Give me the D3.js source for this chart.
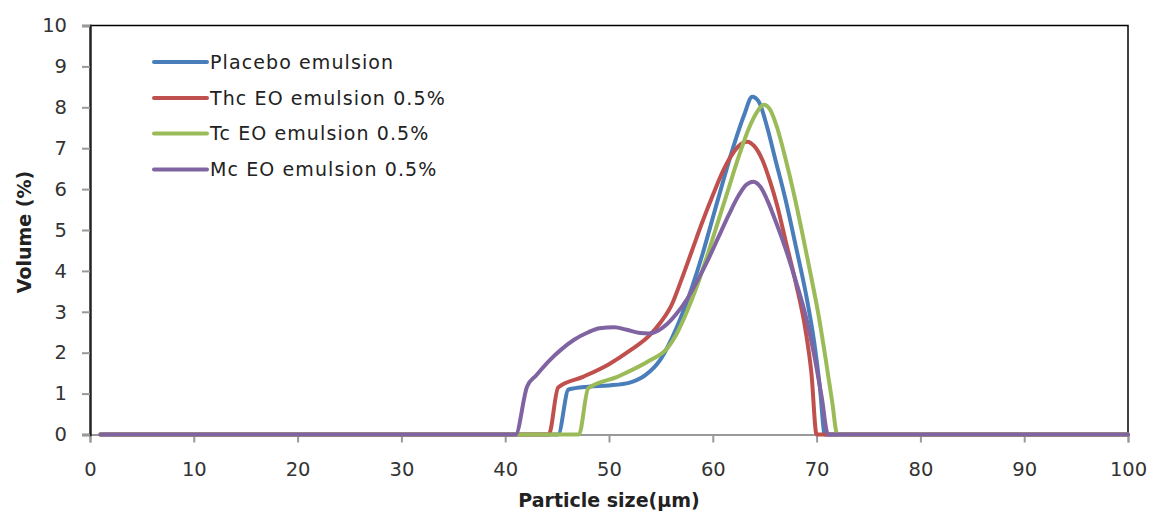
<!DOCTYPE html>
<html><head><meta charset="utf-8">
<script src="https://cdn.jsdelivr.net/npm/d3@7"></script>
<style>body{margin:0;background:#fff}svg{display:block}</style>
</head><body>
<svg id="c" width="1153" height="513"></svg>
<script>
const seriesNames = ["Placebo emulsion","Thc EO emulsion 0.5%","Tc EO emulsion 0.5%","Mc EO emulsion 0.5%"];
const seriesColors = ["#4a7ebb","#c0504d","#9bbb59","#8064a2"];
const xTicks = [0,10,20,30,40,50,60,70,80,90,100];
const yTicks = [0,1,2,3,4,5,6,7,8,9,10];

const placeboX = [1,45.1,46.1,48,50,52,53.5,55,56.5,58,59,60,61,62,63,63.8,64.4,65.2,66,67,68,69,69.8,70.3,70.8,100];
const placeboY = [0,0,1.1,1.17,1.2,1.27,1.45,1.85,2.6,3.6,4.4,5.3,6.2,7.05,7.8,8.26,8.15,7.55,6.75,5.75,4.6,3.4,2.2,1.2,0,0];
const thcX = [1,44.2,45.1,47.5,50,52,54,55,56,57,58,59,60,61,62,62.7,63.3,64,64.8,65.5,66.2,67,68,68.9,69.5,70,100];
const thcY = [0,0,1.15,1.41,1.72,2.05,2.45,2.75,3.15,3.8,4.5,5.2,5.85,6.45,6.9,7.1,7.16,7.05,6.7,6.2,5.6,4.75,3.7,2.6,1.5,0,0];
const tcX = [1,47.1,48,50.8,54,55.6,56.5,57.5,58.5,59.5,60.5,61.5,62.5,63.5,64.3,64.9,65.5,66.2,67,67.8,68.6,69.4,70.2,70.9,71.5,72,100];
const tcY = [0,0,1.13,1.41,1.82,2.1,2.45,3.0,3.65,4.4,5.2,6.0,6.8,7.5,7.9,8.06,7.95,7.5,6.75,5.9,4.95,3.95,2.9,1.8,0.8,0,0];
const mcX = [1,41,42.1,43,44.3,45.5,46.6,48,49.1,50.5,51.7,53,53.8,54.8,55.6,56.5,57.5,58.5,59.5,60.5,61.5,62.5,63.2,63.9,64.6,65.3,66,67,68,69,69.8,70.5,71.1,100];
const mcY = [0,0,1.17,1.45,1.82,2.1,2.31,2.5,2.6,2.62,2.56,2.48,2.47,2.55,2.7,2.95,3.3,3.75,4.25,4.8,5.35,5.85,6.1,6.18,6.05,5.7,5.25,4.55,3.75,2.85,1.9,0.9,0,0];

const seriesX = [placeboX, thcX, tcX, mcX];
const seriesY = [placeboY, thcY, tcY, mcY];

const svg = d3.select("#c");
const L = 90, R = 1128, T = 25.5, B = 434.5;
const x = d3.scaleLinear().domain([0,100]).range([L,R]);
const y = d3.scaleLinear().domain([0,10]).range([B,T]);
const font = "'DejaVu Sans', Verdana, sans-serif";

// plot border (top/right)
svg.append("path").attr("d",`M${L},${T}H${R}V${B}`).attr("fill","none").attr("stroke","#000").attr("stroke-width",1.5);

// x axis
const gx = svg.append("g").attr("transform",`translate(0,${B})`)
  .call(d3.axisBottom(x).tickValues(xTicks).tickSize(8).tickPadding(20).tickFormat(d3.format("d")));
gx.select(".domain").attr("stroke","#999").attr("stroke-width",2);
gx.selectAll(".tick line").attr("stroke","#999").attr("stroke-width",2);
gx.selectAll(".tick text").attr("font-family",font).attr("font-size",19.5).attr("fill","#333");

// y axis
const gy = svg.append("g").attr("transform",`translate(${L},0)`)
  .call(d3.axisLeft(y).tickValues(yTicks).tickSize(8).tickPadding(15).tickFormat(d3.format("d")));
gy.select(".domain").attr("stroke","#222").attr("stroke-width",2.5);
gy.selectAll(".tick line").attr("stroke","#999").attr("stroke-width",2);
gy.selectAll(".tick text").attr("font-family",font).attr("font-size",19.5).attr("fill","#333");

// lines
const line = d3.line().x(d=>x(d[0])).y(d=>y(d[1])).curve(d3.curveMonotoneX);
seriesX.forEach((xs,i)=>{
  const pts = xs.map((v,j)=>[v, seriesY[i][j]]);
  svg.append("path").datum(pts).attr("d",line).attr("fill","none")
    .attr("stroke",seriesColors[i]).attr("stroke-width",4).attr("stroke-linejoin","round").attr("stroke-linecap","round");
});

// legend
const legY = [62,98,133.5,169.5];
seriesNames.forEach((n,i)=>{
  svg.append("line").attr("x1",154).attr("x2",207).attr("y1",legY[i]).attr("y2",legY[i])
    .attr("stroke",seriesColors[i]).attr("stroke-width",4).attr("stroke-linecap","round");
  svg.append("text").attr("x",210).attr("y",legY[i]).attr("dy","0.36em")
    .attr("font-family",font).attr("font-size",19).attr("letter-spacing",1.1).attr("fill","#222").text(n);
});

// titles
svg.append("text").attr("x",609).attr("y",507).attr("text-anchor","middle")
  .attr("font-family",font).attr("font-size",19).attr("font-weight","bold").attr("fill","#222").text("Particle size(μm)");
svg.append("text").attr("transform",`translate(31,232) rotate(-90)`).attr("text-anchor","middle")
  .attr("font-family",font).attr("font-size",19).attr("font-weight","bold").attr("fill","#222").text("Volume (%)");
</script>
</body></html>
